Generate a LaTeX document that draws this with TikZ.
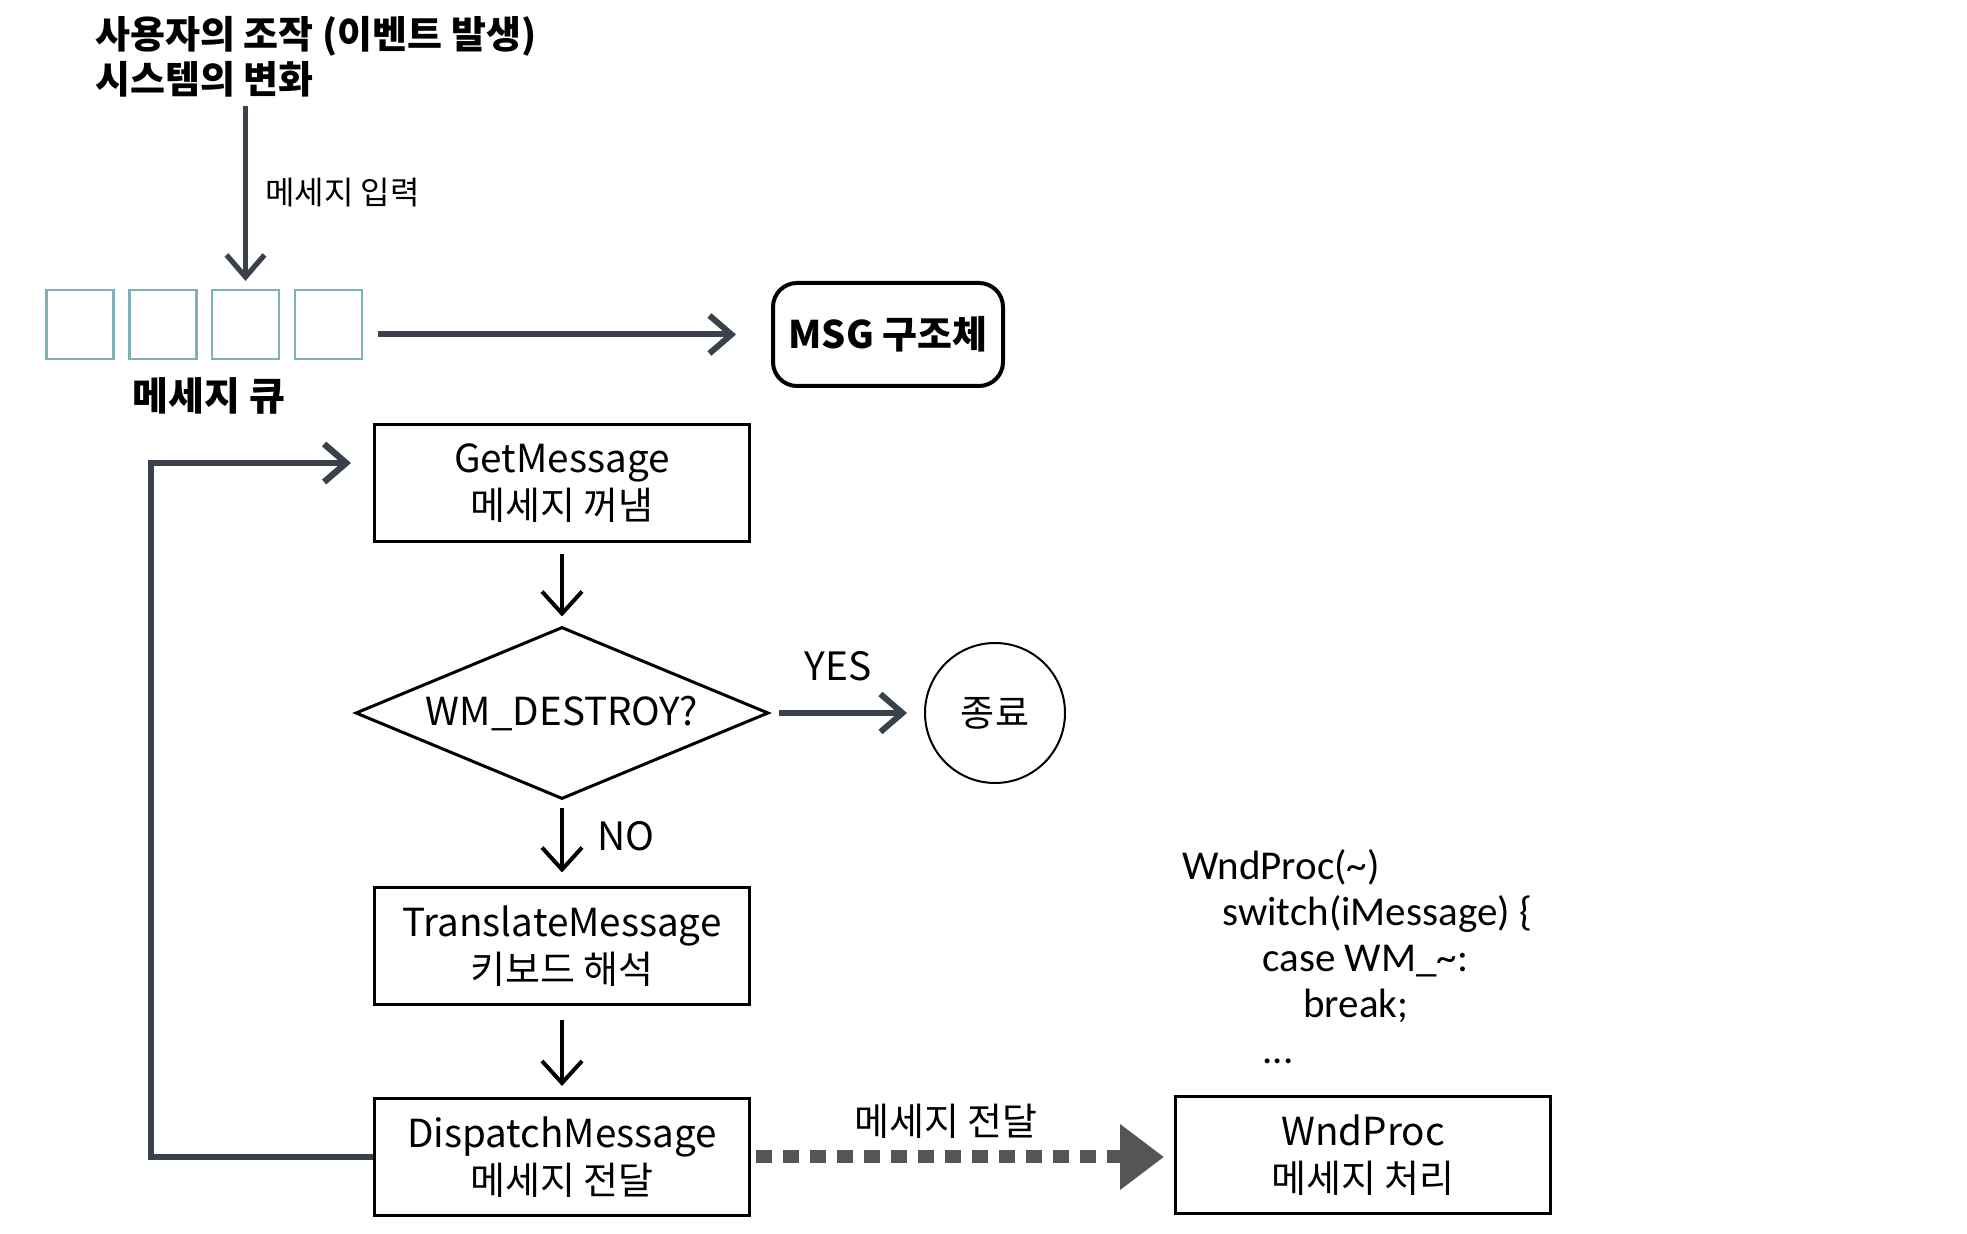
\documentclass[tikz,border=0pt]{standalone}
\usepackage{fontspec}
\setmainfont{Noto Sans CJK KR}
\newfontfamily\codef{Carlito}
\usetikzlibrary{arrows.meta,shapes.geometric}
\definecolor{slate}{HTML}{3A414A}
\definecolor{qteal}{HTML}{7DB1B6}
\definecolor{dgray}{HTML}{555555}
\newcommand\latline[1]{{\fontsize{19.3pt}{23.5pt}\selectfont #1}}
\begin{document}
\begin{tikzpicture}[x=0.5pt,y=-0.5pt,
  txt/.style={inner sep=0pt, font=\fontsize{19pt}{23.5pt}\selectfont},
  lattxt/.style={inner sep=0pt, font=\fontsize{19.5pt}{23.5pt}\selectfont},
  flowbox/.style={draw=black, line width=1.5pt, minimum width=187.5pt, minimum height=58.5pt,
    inner sep=0pt, align=center, font=\fontsize{19pt}{23.5pt}\selectfont},
  qbox/.style={draw=qteal, line width=1.1pt, minimum width=33.5pt, minimum height=34.5pt, inner sep=0pt},
  darr/.style={draw=slate, line width=3pt, -{Straight Barb[length=11pt,width=19pt]}},
  barr/.style={draw=black, line width=2pt, -{Straight Barb[length=11pt,width=20pt]}},
  dasharr/.style={draw=dgray, line width=6.5pt, dash pattern=on 8pt off 5.5pt,
    -{Triangle[length=22pt,width=31.5pt]}},
  code/.style={inner sep=0pt, anchor=base west, font=\codef\fontsize{20.5pt}{23pt}\selectfont}
]
\useasboundingbox (0,0) rectangle (1967,1234);

% title
\node[anchor=west, align=left, inner sep=0pt,
  font=\bfseries\fontsize{19pt}{22.5pt}\selectfont] (title) at (95,57)
  {사용자의 조작 (이벤트 발생)\\시스템의 변화};

% message queue
\node[qbox] (q1) at (80,324.5) {};
\node[qbox] (q2) at (163,324.5) {};
\node[qbox] (q3) at (245.5,324.5) {};
\node[qbox] (q4) at (328.5,324.5) {};
\node[txt, font=\bfseries\fontsize{19.5pt}{20pt}\selectfont] (qlbl) at (209,396) {메세지 큐};

\coordinate (src) at (245.5,106);
\draw[darr, line width=2.6pt, shorten >=4pt] (src) -- (q3.north);
\node[txt, anchor=west, font=\fontsize{16pt}{18pt}\selectfont] (inlbl) at (265,193) {메세지 입력};

% MSG struct
\node[draw=black, line width=2pt, rounded corners=12pt, minimum width=115pt, minimum height=51.5pt,
  inner sep=0pt, font=\bfseries\fontsize{19pt}{22pt}\selectfont] (msg) at (888,334.5) {MSG 구조체};
\draw[darr, shorten <=7.5pt, shorten >=17.5pt] (q4.east |- msg.west) -- (msg.west);

% flow
\node[flowbox] (get) at (562,483) {\latline{GetMessage}\\메세지 꺼냄};
\node[diamond, draw=black, line width=1.5pt, aspect=2.4, minimum width=206.5pt, minimum height=86pt,
  inner sep=0pt, font=\fontsize{19.3pt}{23.5pt}\selectfont] (dmd) at (562,713) {WM\_DESTROY?};
\node[circle, draw=black, line width=1pt, minimum size=70pt, inner sep=0pt,
  font=\fontsize{18.5pt}{20pt}\selectfont] (end) at (995,713) {종료};
\node[flowbox] (trans) at (562,946.5) {\latline{TranslateMessage}\\키보드 해석};
\node[flowbox] (disp) at (562,1157) {\latline{DispatchMessage}\\메세지 전달};
\node[flowbox] (wnd) at (1363,1155) {\latline{WndProc}\\메세지 처리};

\draw[barr, shorten <=5.5pt, shorten >=4.5pt] (get.south) -- (dmd.north);
\draw[darr, shorten <=4.5pt, shorten >=8.5pt] (dmd.east) -- (end.west);
\node[lattxt] (yes) at (838,666) {YES};
\draw[barr, shorten <=4pt, shorten >=7pt] (dmd.south) -- (trans.north);
\node[lattxt] (no) at (626,836) {NO};
\draw[barr, shorten <=7pt, shorten >=5.5pt] (trans.south) -- (disp.north);

\draw[dasharr, shorten <=2.5pt, shorten >=5pt] (disp.east) -- (disp.east -| wnd.west);
\node[txt] (pass) at (946,1121) {메세지 전달};

% loop back
\coordinate (lp) at (151,463);
\draw[darr, line width=3.2pt, shorten >=11pt] (disp.west) -| (lp) -- (lp -| get.west);

% code
\node[code] (c1) at (1182,880) {WndProc(\textasciitilde)};
\node[code] (c2) at (1222,926) {switch(iMessage) \{};
\node[code] (c3) at (1262,972) {case WM\_\textasciitilde:};
\node[code] (c4) at (1303,1018) {break;};
\node[code] (c5) at (1262,1064) {...};
\end{tikzpicture}
\end{document}
